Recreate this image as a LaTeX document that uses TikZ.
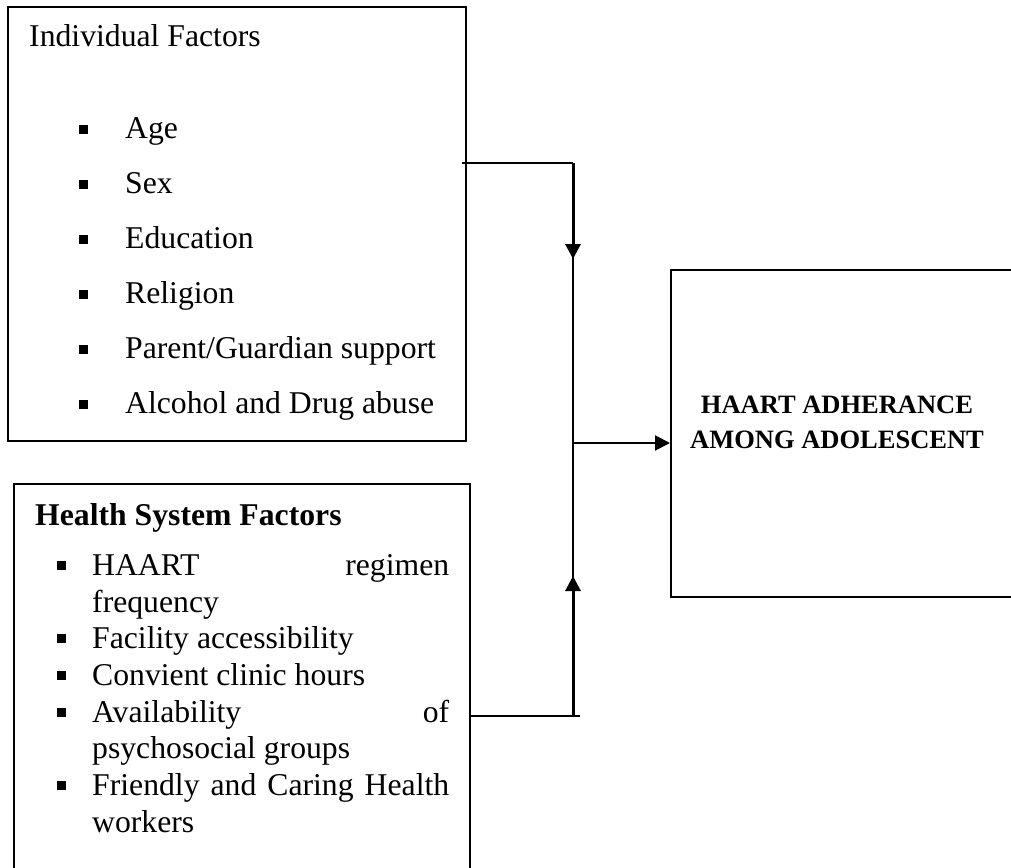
\documentclass[tikz,border=0pt]{standalone}
\usepackage{fontspec}
\setmainfont{Liberation Serif}
\usetikzlibrary{arrows.meta}
\begin{document}
\begin{tikzpicture}[x=1pt,y=-1pt,
  box/.style={draw,line width=2pt,rectangle,inner sep=0pt},
  txt/.style={anchor=base west,inner sep=0pt,font=\fontsize{31.7}{36.7}\selectfont},
  head/.style={txt},
  sq/.style={fill=black,inner sep=0pt,minimum size=9pt,rectangle},
  thinln/.style={line width=1.3pt},
  thickarr/.style={line width=3pt,-{Triangle[width=15pt,length=15pt]}},
  midarr/.style={line width=2pt,-{Triangle[width=15pt,length=15pt]}},
  outtxt/.style={inner sep=0pt,align=center,font=\fontsize{26.5}{35}\selectfont\bfseries}]
\useasboundingbox (0,0) rectangle (1011,867);
\clip (0,0) rectangle (1011,867);
% boxes
\node[box,minimum width=458pt,minimum height=434pt] (ind) at (237,224) {};
\node[box,minimum width=456pt,minimum height=416pt] (hsf) at (242,692) {};
\node[box,minimum width=349pt,minimum height=327pt] (out) at (845.5,433.5) {};
% individual factors
\node[head] (indh) at (29,47) {Individual Factors};
\foreach \t/\yy [count=\i] in {Age/138,Sex/193,Education/248,Religion/303,Parent\slash Guardian support/358,Alcohol and Drug abuse/413}{
  \node[sq] (ib\i) at (83,\yy-9) {};
  \node[txt] (it\i) at (125,\yy) {\t};
}
% health system factors
\node[head,font=\fontsize{31.7}{36.7}\selectfont\bfseries] (hsh) at (35,525) {Health System Factors};
\node[sq] (hb1) at (61,575-10) {};
\node[txt] (ht1) at (92,575) {\makebox[357pt][s]{HAART regimen}};
\node[txt] (ht2) at (92,612) {frequency};
\node[sq] (hb2) at (61,648-10) {};
\node[txt] (ht3) at (92,648) {Facility accessibility};
\node[sq] (hb3) at (61,685-10) {};
\node[txt] (ht4) at (92,685) {Convient clinic hours};
\node[sq] (hb4) at (61,722-10) {};
\node[txt] (ht5) at (92,722) {\makebox[357pt][s]{Availability of}};
\node[txt] (ht6) at (92,758) {psychosocial groups};
\node[sq] (hb5) at (61,795-10) {};
\node[txt] (ht7) at (92,795) {\makebox[357pt][s]{Friendly and Caring Health}};
\node[txt] (ht8) at (92,832) {workers};
% outcome text
\node[outtxt] (ot) at (837,422) {HAART ADHERANCE\\AMONG ADOLESCENT};
% connectors
\coordinate (tc) at (573,163);
\coordinate (bc) at (573,716);
\coordinate (jm) at (573,443);
\coordinate (tt) at (573,259);
\coordinate (bt) at (573,576);
\coordinate (bend) at (580,716);
\draw[thinln] ([xshift=-5pt]tc -| ind.east) -- (tc);
\draw[thinln] (tc) -- (bc);
\draw[thickarr] (tc) -- (tt);
\draw[thinln] (bc -| hsf.east) -- (bend);
\draw[thickarr] (bc) -- (bt);
\draw[midarr] (jm) -- (jm -| out.west);
\end{tikzpicture}
\end{document}
